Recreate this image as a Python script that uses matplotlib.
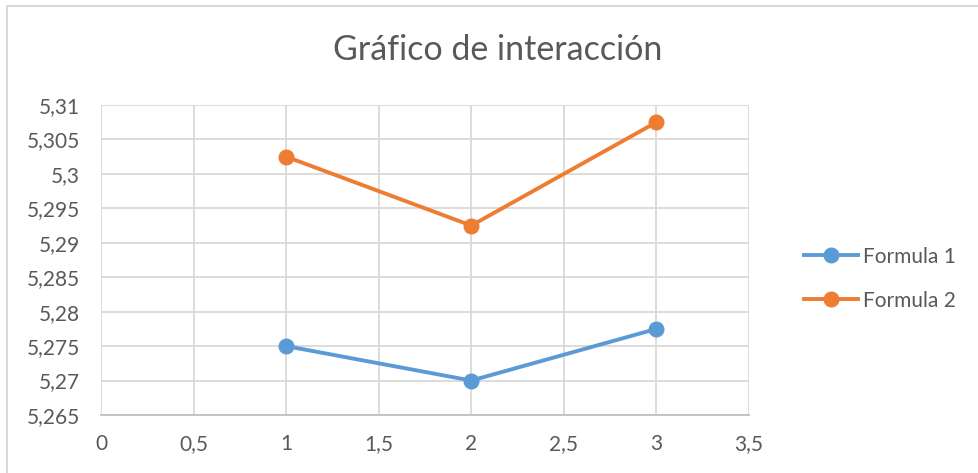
import matplotlib.pyplot as plt
from matplotlib.ticker import FuncFormatter, MultipleLocator
from matplotlib.patches import Rectangle

x_vals = [1, 2, 3]
formula_1 = [5.275, 5.270, 5.2775]
formula_2 = [5.3025, 5.2925, 5.3075]
labels = ["Formula 1", "Formula 2"]
title = "Gráfico de interacción"

plt.rcParams['font.family'] = ['Lato', 'DejaVu Sans']

fig = plt.figure(figsize=(9.79, 4.73), dpi=100)
ax = fig.add_axes([101 / 979, 1 - 415 / 473, 648 / 979, 310 / 473])

# chart border (cropped at right/bottom)
fig.patches.append(Rectangle((7 / 979, -0.5), 2, 1.5 - 6 / 473, transform=fig.transFigure,
                             fill=False, edgecolor='#d9d9d9', linewidth=1.5))

ax.plot(x_vals, formula_1, color='#5b9bd5', lw=2.8, marker='o', ms=10.5, label=labels[0])
ax.plot(x_vals, formula_2, color='#ed7d31', lw=2.8, marker='o', ms=10.5, label=labels[1])

ax.set_xlim(0, 3.5)
ax.set_ylim(5.265, 5.31)
ax.xaxis.set_major_locator(MultipleLocator(0.5))
ax.yaxis.set_major_locator(MultipleLocator(0.005))


def comma(v, pos):
    s = f"{v:.3f}".rstrip('0').rstrip('.')
    return s.replace('.', ',')


ax.xaxis.set_major_formatter(FuncFormatter(comma))
ax.yaxis.set_major_formatter(FuncFormatter(comma))

ax.grid(True, color='#d9d9d9', lw=1.3)
ax.set_axisbelow(True)
for s in ['top', 'right', 'left']:
    ax.spines[s].set_visible(False)
ax.spines['bottom'].set_color('#bfbfbf')
ax.spines['bottom'].set_linewidth(1.3)
ax.tick_params(length=0, labelsize=15, colors='#595959')
ax.tick_params(axis='x', pad=14)
ax.tick_params(axis='y', pad=15)

fig.suptitle(title, x=498 / 979, y=1 - 50 / 473, va='center', fontsize=24.5, color='#595959')

ax.legend(loc='center left', bbox_to_anchor=(1.056, 0.44), frameon=False,
          fontsize=15, labelcolor='#595959', handlelength=2.6, handletextpad=0.25,
          labelspacing=1.15)

fig.savefig('out.png', dpi=100)
